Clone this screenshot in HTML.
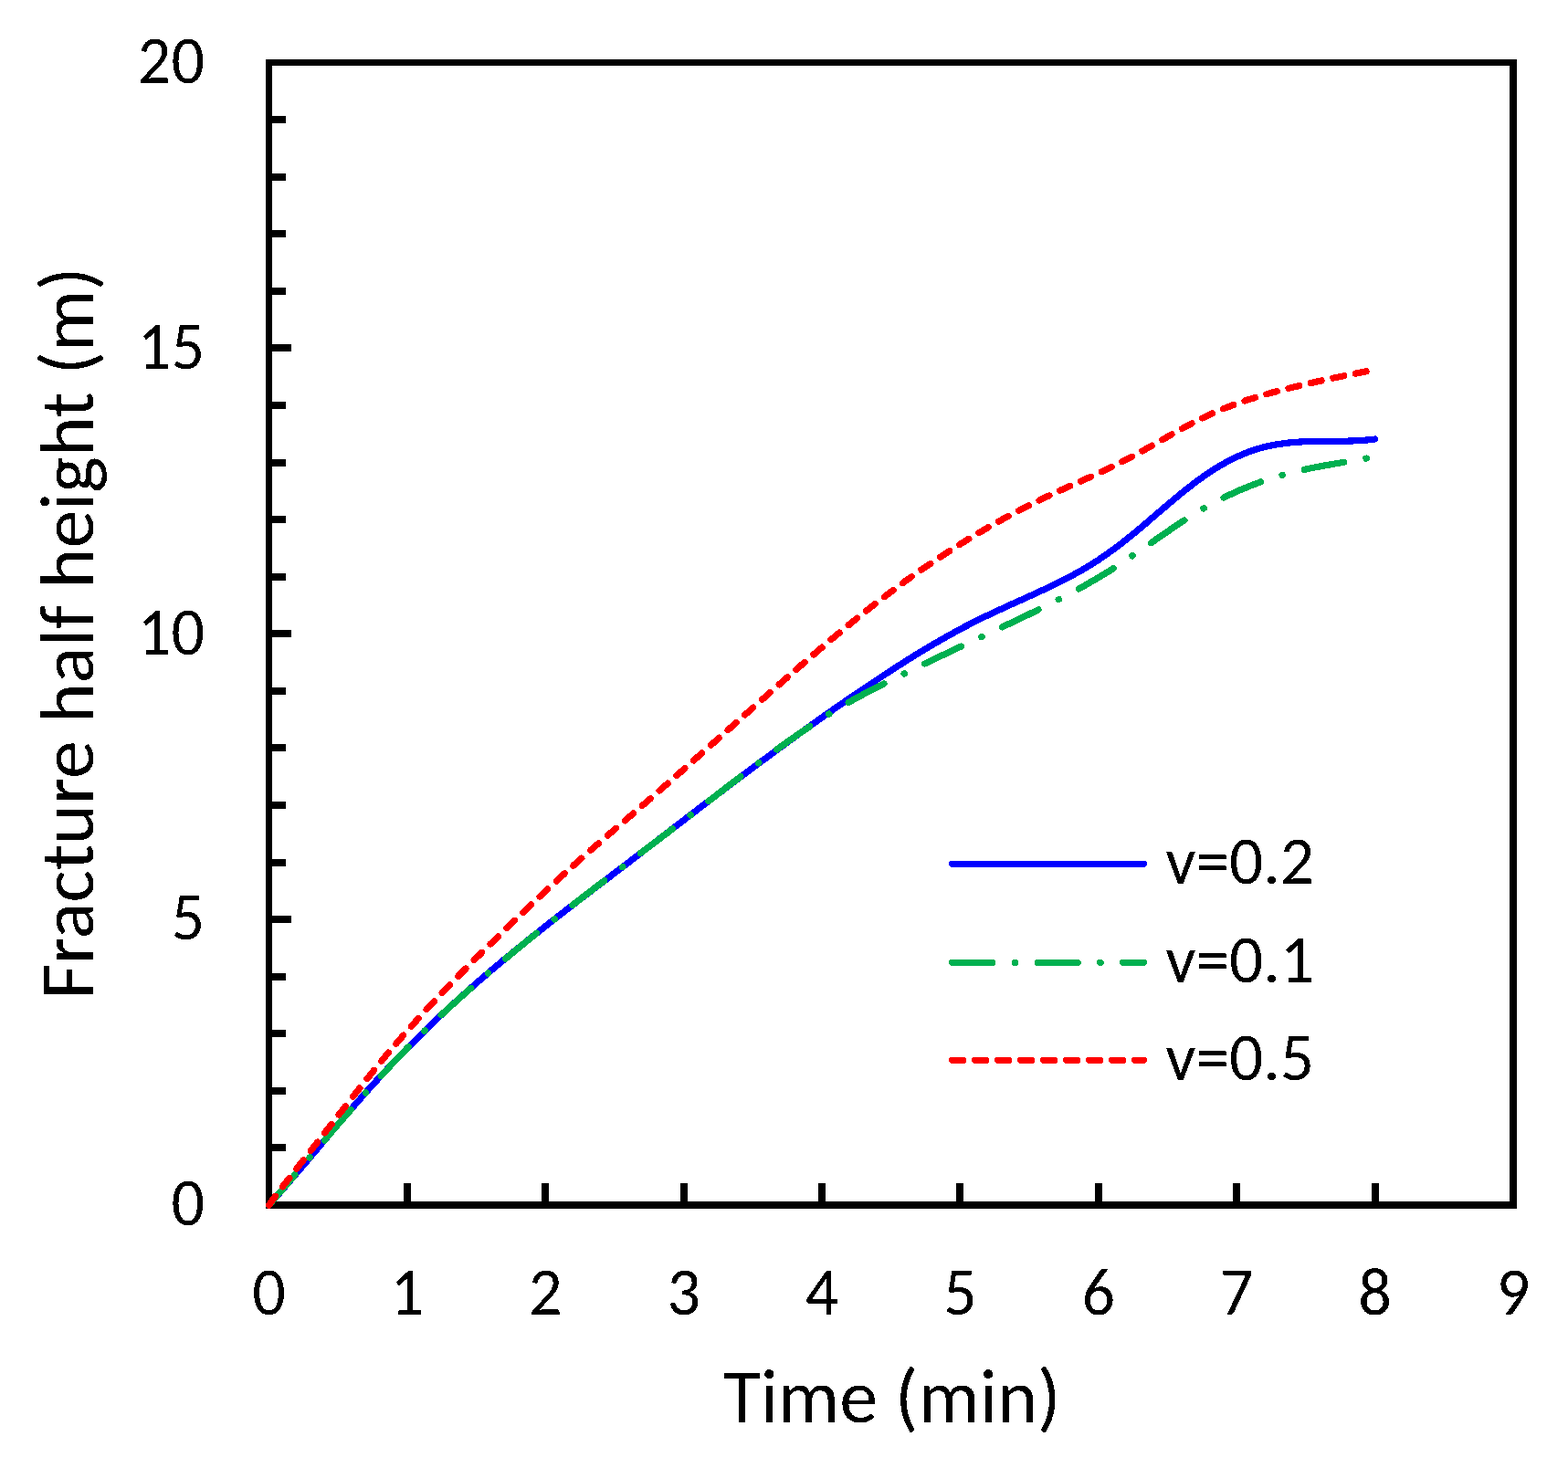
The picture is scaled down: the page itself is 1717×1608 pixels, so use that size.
<!DOCTYPE html>
<html><head><meta charset="utf-8"><title>Fracture half height vs time</title>
<style>
html,body{margin:0;padding:0;background:#fff;width:1717px;height:1608px;overflow:hidden}
svg{display:block}
text{font-family:Carlito,"Liberation Sans",sans-serif;fill:#000;font-size-adjust:0.4775}
</style></head><body>
<svg width="1717" height="1608" viewBox="0 0 1717 1608">
<defs><filter id="bin" x="0" y="0" width="1717" height="1608" filterUnits="userSpaceOnUse"><feComponentTransfer><feFuncA type="discrete" tableValues="0 1"/></feComponentTransfer></filter></defs>
<rect width="1717" height="1608" fill="#fff"/>
<path d="M291,65H1661V1324H291Z M298,72V1316H1653V72Z" fill="#000" fill-rule="evenodd"/>
<rect x="298" y="1253" width="15" height="8" fill="#000"/>
<rect x="298" y="1191" width="15" height="8" fill="#000"/>
<rect x="298" y="1128" width="15" height="8" fill="#000"/>
<rect x="298" y="1066" width="15" height="8" fill="#000"/>
<rect x="298" y="1003" width="21" height="8" fill="#000"/>
<rect x="298" y="941" width="15" height="8" fill="#000"/>
<rect x="298" y="878" width="15" height="8" fill="#000"/>
<rect x="298" y="815" width="15" height="8" fill="#000"/>
<rect x="298" y="753" width="15" height="8" fill="#000"/>
<rect x="298" y="690" width="21" height="8" fill="#000"/>
<rect x="298" y="628" width="15" height="8" fill="#000"/>
<rect x="298" y="565" width="15" height="8" fill="#000"/>
<rect x="298" y="503" width="15" height="8" fill="#000"/>
<rect x="298" y="440" width="15" height="8" fill="#000"/>
<rect x="298" y="377" width="21" height="8" fill="#000"/>
<rect x="298" y="315" width="15" height="8" fill="#000"/>
<rect x="298" y="252" width="15" height="8" fill="#000"/>
<rect x="298" y="190" width="15" height="8" fill="#000"/>
<rect x="298" y="127" width="15" height="8" fill="#000"/>
<rect x="442" y="1296" width="8" height="20" fill="#000"/>
<rect x="593" y="1296" width="8" height="20" fill="#000"/>
<rect x="745" y="1296" width="8" height="20" fill="#000"/>
<rect x="896" y="1296" width="8" height="20" fill="#000"/>
<rect x="1047" y="1296" width="8" height="20" fill="#000"/>
<rect x="1199" y="1296" width="8" height="20" fill="#000"/>
<rect x="1350" y="1296" width="8" height="20" fill="#000"/>
<rect x="1502" y="1296" width="8" height="20" fill="#000"/>
<path d="M294.5,1320.0 L297.5,1316.6 L300.5,1313.2 L303.5,1309.8 L306.5,1306.4 L309.5,1302.9 L312.5,1299.5 L315.5,1296.0 L318.5,1292.5 L321.5,1289.0 L324.5,1285.5 L327.5,1282.0 L330.5,1278.5 L333.5,1274.9 L336.5,1271.4 L339.5,1267.9 L342.5,1264.3 L345.5,1260.8 L348.5,1257.2 L351.5,1253.7 L354.5,1250.1 L357.5,1246.6 L360.5,1243.0 L363.5,1239.5 L366.5,1236.0 L369.5,1232.4 L372.5,1228.9 L375.5,1225.4 L378.5,1221.9 L381.5,1218.5 L384.5,1215.0 L387.5,1211.5 L390.5,1208.1 L393.5,1204.7 L396.5,1201.3 L399.5,1197.9 L402.5,1194.5 L405.5,1191.2 L408.5,1187.9 L411.5,1184.6 L414.5,1181.3 L417.5,1178.1 L420.5,1174.8 L423.5,1171.6 L426.5,1168.4 L429.5,1165.2 L432.5,1162.1 L435.5,1159.0 L438.5,1155.8 L441.5,1152.7 L444.5,1149.7 L447.5,1146.6 L450.5,1143.6 L453.5,1140.6 L456.5,1137.6 L459.5,1134.6 L462.5,1131.6 L465.5,1128.7 L468.5,1125.8 L471.5,1122.9 L474.5,1120.0 L477.5,1117.2 L480.5,1114.3 L483.5,1111.5 L486.5,1108.7 L489.5,1105.9 L492.5,1103.1 L495.5,1100.4 L498.5,1097.6 L501.5,1094.9 L504.5,1092.2 L507.5,1089.5 L510.5,1086.8 L513.5,1084.1 L516.5,1081.5 L519.5,1078.9 L522.5,1076.2 L525.5,1073.6 L528.5,1071.0 L531.5,1068.5 L534.5,1065.9 L537.5,1063.3 L540.5,1060.8 L543.5,1058.3 L546.5,1055.7 L549.5,1053.2 L552.5,1050.7 L555.5,1048.3 L558.5,1045.8 L561.5,1043.3 L564.5,1040.9 L567.5,1038.4 L570.5,1036.0 L573.5,1033.6 L576.5,1031.1 L579.5,1028.7 L582.5,1026.3 L585.5,1023.9 L588.5,1021.6 L591.5,1019.2 L594.5,1016.8 L597.5,1014.4 L600.5,1012.1 L603.5,1009.7 L606.5,1007.4 L609.5,1005.0 L612.5,1002.7 L615.5,1000.4 L618.5,998.1 L621.5,995.7 L624.5,993.4 L627.5,991.1 L630.5,988.8 L633.5,986.5 L636.5,984.2 L639.5,981.9 L642.5,979.6 L645.5,977.3 L648.5,975.0 L651.5,972.7 L654.5,970.4 L657.5,968.2 L660.5,965.9 L663.5,963.6 L666.5,961.3 L669.5,959.0 L672.5,956.7 L675.5,954.4 L678.5,952.1 L681.5,949.9 L684.5,947.6 L687.5,945.3 L690.5,943.0 L693.5,940.7 L696.5,938.4 L699.5,936.1 L702.5,933.8 L705.5,931.5 L708.5,929.2 L711.5,926.9 L714.5,924.6 L717.5,922.3 L720.5,920.0 L723.5,917.7 L726.5,915.4 L729.5,913.1 L732.5,910.8 L735.5,908.5 L738.5,906.2 L741.5,903.9 L744.5,901.6 L747.5,899.3 L750.5,897.0 L753.5,894.7 L756.5,892.4 L759.5,890.1 L762.5,887.8 L765.5,885.5 L768.5,883.2 L771.5,880.9 L774.5,878.7 L777.5,876.4 L780.5,874.1 L783.5,871.8 L786.5,869.5 L789.5,867.3 L792.5,865.0 L795.5,862.7 L798.5,860.5 L801.5,858.2 L804.5,855.9 L807.5,853.7 L810.5,851.4 L813.5,849.2 L816.5,846.9 L819.5,844.7 L822.5,842.4 L825.5,840.2 L828.5,837.9 L831.5,835.7 L834.5,833.5 L837.5,831.3 L840.5,829.1 L843.5,826.8 L846.5,824.6 L849.5,822.4 L852.5,820.2 L855.5,818.0 L858.5,815.8 L861.5,813.6 L864.5,811.5 L867.5,809.3 L870.5,807.1 L873.5,804.9 L876.5,802.8 L879.5,800.6 L882.5,798.5 L885.5,796.3 L888.5,794.2 L891.5,792.0 L894.5,789.9 L897.5,787.8 L900.5,785.7 L903.5,783.5 L906.5,781.4 L909.5,779.3 L912.5,777.2 L915.5,775.1 L918.5,773.0 L921.5,771.0 L924.5,768.9 L927.5,766.8 L930.5,764.7 L933.5,762.7 L936.5,760.6 L939.5,758.6 L942.5,756.6 L945.5,754.5 L948.5,752.5 L951.5,750.5 L954.5,748.5 L957.5,746.5 L960.5,744.5 L963.5,742.5 L966.5,740.5 L969.5,738.5 L972.5,736.6 L975.5,734.6 L978.5,732.7 L981.5,730.7 L984.5,728.8 L987.5,726.9 L990.5,725.0 L993.5,723.1 L996.5,721.2 L999.5,719.4 L1002.5,717.5 L1005.5,715.7 L1008.5,713.8 L1011.5,712.0 L1014.5,710.2 L1017.5,708.4 L1020.5,706.7 L1023.5,704.9 L1026.5,703.2 L1029.5,701.4 L1032.5,699.7 L1035.5,698.0 L1038.5,696.3 L1041.5,694.6 L1044.5,693.0 L1047.5,691.4 L1050.5,689.7 L1053.5,688.1 L1056.5,686.5 L1059.5,685.0 L1062.5,683.4 L1065.5,681.9 L1068.5,680.4 L1071.5,678.9 L1074.5,677.4 L1077.5,675.9 L1080.5,674.5 L1083.5,673.1 L1086.5,671.6 L1089.5,670.2 L1092.5,668.8 L1095.5,667.5 L1098.5,666.1 L1101.5,664.7 L1104.5,663.4 L1107.5,662.0 L1110.5,660.6 L1113.5,659.3 L1116.5,657.9 L1119.5,656.6 L1122.5,655.2 L1125.5,653.9 L1128.5,652.5 L1131.5,651.1 L1134.5,649.8 L1137.5,648.4 L1140.5,647.0 L1143.5,645.6 L1146.5,644.2 L1149.5,642.7 L1152.5,641.3 L1155.5,639.9 L1158.5,638.4 L1161.5,636.9 L1164.5,635.4 L1167.5,633.8 L1170.5,632.3 L1173.5,630.7 L1176.5,629.0 L1179.5,627.4 L1182.5,625.7 L1185.5,624.0 L1188.5,622.2 L1191.5,620.4 L1194.5,618.6 L1197.5,616.7 L1200.5,614.8 L1203.5,612.9 L1206.5,610.8 L1209.5,608.8 L1212.5,606.7 L1215.5,604.5 L1218.5,602.4 L1221.5,600.1 L1224.5,597.9 L1227.5,595.6 L1230.5,593.2 L1233.5,590.9 L1236.5,588.5 L1239.5,586.0 L1242.5,583.6 L1245.5,581.1 L1248.5,578.6 L1251.5,576.0 L1254.5,573.5 L1257.5,570.9 L1260.5,568.3 L1263.5,565.8 L1266.5,563.2 L1269.5,560.6 L1272.5,558.0 L1275.5,555.5 L1278.5,552.9 L1281.5,550.4 L1284.5,547.9 L1287.5,545.4 L1290.5,542.9 L1293.5,540.4 L1296.5,538.0 L1299.5,535.6 L1302.5,533.3 L1305.5,531.0 L1308.5,528.7 L1311.5,526.4 L1314.5,524.3 L1317.5,522.1 L1320.5,520.0 L1323.5,518.0 L1326.5,516.0 L1329.5,514.1 L1332.5,512.2 L1335.5,510.4 L1338.5,508.6 L1341.5,507.0 L1344.5,505.3 L1347.5,503.8 L1350.5,502.3 L1353.5,500.8 L1356.5,499.5 L1359.5,498.1 L1362.5,496.9 L1365.5,495.7 L1368.5,494.6 L1371.5,493.5 L1374.5,492.5 L1377.5,491.6 L1380.5,490.7 L1383.5,489.9 L1386.5,489.2 L1389.5,488.5 L1392.5,487.9 L1395.5,487.3 L1398.5,486.8 L1401.5,486.3 L1404.5,485.9 L1407.5,485.5 L1410.5,485.1 L1413.5,484.8 L1416.5,484.6 L1419.5,484.3 L1422.5,484.1 L1425.5,483.9 L1428.5,483.8 L1431.5,483.7 L1434.5,483.6 L1437.5,483.5 L1440.5,483.5 L1443.5,483.4 L1446.5,483.4 L1449.5,483.4 L1452.5,483.3 L1455.5,483.3 L1458.5,483.3 L1461.5,483.3 L1464.5,483.3 L1467.5,483.2 L1470.5,483.2 L1473.5,483.1 L1476.5,483.1 L1479.5,483.0 L1482.5,482.9 L1485.5,482.7 L1488.5,482.6 L1491.5,482.4 L1494.5,482.2 L1497.5,481.9 L1500.5,481.6 L1503.5,481.3 L1505.5,481.0" fill="none" stroke="#0000FF" stroke-width="7.2" stroke-linecap="round" stroke-linejoin="round" shape-rendering="crispEdges"/>
<path d="M294.5,1320.0 L297.5,1316.5 L300.5,1313.1 L303.5,1309.6 L306.5,1306.1 L309.5,1302.6 L312.5,1299.1 L315.5,1295.6 L318.5,1292.1 L321.5,1288.6 L324.5,1285.1 L327.5,1281.6 L330.5,1278.1 L333.5,1274.6 L336.5,1271.0 L339.5,1267.5 L342.5,1264.0 L345.5,1260.5 L348.5,1257.0 L351.5,1253.5 L354.5,1250.0 L357.5,1246.5 L360.5,1243.0 L363.5,1239.5 L366.5,1236.0 L369.5,1232.5 L372.5,1229.0 L375.5,1225.6 L378.5,1222.1 L381.5,1218.7 L384.5,1215.2 L387.5,1211.8 L390.5,1208.4 L393.5,1205.0 L396.5,1201.6 L399.5,1198.2 L402.5,1194.8 L405.5,1191.5 L408.5,1188.2 L411.5,1184.9 L414.5,1181.5 L417.5,1178.3 L420.5,1175.0 L423.5,1171.8 L426.5,1168.5 L429.5,1165.3 L432.5,1162.1 L435.5,1159.0 L438.5,1155.8 L441.5,1152.7 L444.5,1149.6 L447.5,1146.5 L450.5,1143.5 L453.5,1140.5 L456.5,1137.5 L459.5,1134.5 L462.5,1131.5 L465.5,1128.6 L468.5,1125.7 L471.5,1122.8 L474.5,1119.9 L477.5,1117.1 L480.5,1114.2 L483.5,1111.4 L486.5,1108.6 L489.5,1105.9 L492.5,1103.1 L495.5,1100.4 L498.5,1097.7 L501.5,1095.0 L504.5,1092.3 L507.5,1089.6 L510.5,1086.9 L513.5,1084.3 L516.5,1081.7 L519.5,1079.0 L522.5,1076.4 L525.5,1073.8 L528.5,1071.3 L531.5,1068.7 L534.5,1066.1 L537.5,1063.6 L540.5,1061.0 L543.5,1058.5 L546.5,1056.0 L549.5,1053.5 L552.5,1051.0 L555.5,1048.5 L558.5,1046.0 L561.5,1043.5 L564.5,1041.1 L567.5,1038.6 L570.5,1036.2 L573.5,1033.7 L576.5,1031.3 L579.5,1028.9 L582.5,1026.5 L585.5,1024.0 L588.5,1021.6 L591.5,1019.2 L594.5,1016.9 L597.5,1014.5 L600.5,1012.1 L603.5,1009.7 L606.5,1007.4 L609.5,1005.0 L612.5,1002.6 L615.5,1000.3 L618.5,998.0 L621.5,995.6 L624.5,993.3 L627.5,991.0 L630.5,988.6 L633.5,986.3 L636.5,984.0 L639.5,981.7 L642.5,979.4 L645.5,977.1 L648.5,974.8 L651.5,972.5 L654.5,970.2 L657.5,967.9 L660.5,965.6 L663.5,963.3 L666.5,961.0 L669.5,958.8 L672.5,956.5 L675.5,954.2 L678.5,951.9 L681.5,949.6 L684.5,947.4 L687.5,945.1 L690.5,942.8 L693.5,940.6 L696.5,938.3 L699.5,936.0 L702.5,933.7 L705.5,931.5 L708.5,929.2 L711.5,926.9 L714.5,924.6 L717.5,922.4 L720.5,920.1 L723.5,917.8 L726.5,915.5 L729.5,913.3 L732.5,911.0 L735.5,908.7 L738.5,906.4 L741.5,904.1 L744.5,901.8 L747.5,899.5 L750.5,897.2 L753.5,894.9 L756.5,892.6 L759.5,890.3 L762.5,888.0 L765.5,885.7 L768.5,883.4 L771.5,881.1 L774.5,878.7 L777.5,876.4 L780.5,874.1 L783.5,871.8 L786.5,869.5 L789.5,867.2 L792.5,864.8 L795.5,862.5 L798.5,860.2 L801.5,857.9 L804.5,855.6 L807.5,853.3 L810.5,851.0 L813.5,848.7 L816.5,846.4 L819.5,844.2 L822.5,841.9 L825.5,839.6 L828.5,837.4 L831.5,835.1 L834.5,832.9 L837.5,830.7 L840.5,828.4 L843.5,826.2 L846.5,824.0 L849.5,821.8 L852.5,819.7 L855.5,817.5 L858.5,815.3 L861.5,813.2 L864.5,811.1 L867.5,809.0 L870.5,806.9 L873.5,804.8 L876.5,802.7 L879.5,800.7 L882.5,798.6 L885.5,796.6 L888.5,794.6 L891.5,792.6 L894.5,790.6 L897.5,788.7 L900.5,786.8 L903.5,784.9 L906.5,783.0 L909.5,781.1 L912.5,779.3 L915.5,777.4 L918.5,775.6 L921.5,773.9 L924.5,772.1 L927.5,770.4 L930.5,768.7 L933.5,767.0 L936.5,765.3 L939.5,763.7 L942.5,762.1 L945.5,760.5 L948.5,758.9 L951.5,757.3 L954.5,755.8 L957.5,754.2 L960.5,752.7 L963.5,751.1 L966.5,749.6 L969.5,748.1 L972.5,746.6 L975.5,745.1 L978.5,743.6 L981.5,742.1 L984.5,740.7 L987.5,739.2 L990.5,737.7 L993.5,736.2 L996.5,734.8 L999.5,733.3 L1002.5,731.9 L1005.5,730.4 L1008.5,729.0 L1011.5,727.5 L1014.5,726.1 L1017.5,724.6 L1020.5,723.2 L1023.5,721.8 L1026.5,720.3 L1029.5,718.9 L1032.5,717.5 L1035.5,716.1 L1038.5,714.6 L1041.5,713.2 L1044.5,711.8 L1047.5,710.4 L1050.5,709.0 L1053.5,707.5 L1056.5,706.1 L1059.5,704.7 L1062.5,703.3 L1065.5,701.9 L1068.5,700.5 L1071.5,699.1 L1074.5,697.7 L1077.5,696.2 L1080.5,694.8 L1083.5,693.4 L1086.5,692.0 L1089.5,690.6 L1092.5,689.2 L1095.5,687.8 L1098.5,686.3 L1101.5,684.9 L1104.5,683.5 L1107.5,682.1 L1110.5,680.6 L1113.5,679.2 L1116.5,677.8 L1119.5,676.3 L1122.5,674.9 L1125.5,673.5 L1128.5,672.0 L1131.5,670.6 L1134.5,669.1 L1137.5,667.6 L1140.5,666.2 L1143.5,664.7 L1146.5,663.2 L1149.5,661.7 L1152.5,660.2 L1155.5,658.6 L1158.5,657.1 L1161.5,655.5 L1164.5,654.0 L1167.5,652.4 L1170.5,650.8 L1173.5,649.2 L1176.5,647.6 L1179.5,646.0 L1182.5,644.3 L1185.5,642.7 L1188.5,641.0 L1191.5,639.3 L1194.5,637.5 L1197.5,635.8 L1200.5,634.0 L1203.5,632.3 L1206.5,630.5 L1209.5,628.6 L1212.5,626.8 L1215.5,624.9 L1218.5,623.0 L1221.5,621.1 L1224.5,619.1 L1227.5,617.2 L1230.5,615.2 L1233.5,613.2 L1236.5,611.2 L1239.5,609.1 L1242.5,607.1 L1245.5,605.0 L1248.5,603.0 L1251.5,600.9 L1254.5,598.8 L1257.5,596.7 L1260.5,594.6 L1263.5,592.6 L1266.5,590.5 L1269.5,588.4 L1272.5,586.3 L1275.5,584.3 L1278.5,582.2 L1281.5,580.2 L1284.5,578.1 L1287.5,576.1 L1290.5,574.1 L1293.5,572.1 L1296.5,570.2 L1299.5,568.2 L1302.5,566.3 L1305.5,564.4 L1308.5,562.6 L1311.5,560.8 L1314.5,559.0 L1317.5,557.2 L1320.5,555.5 L1323.5,553.8 L1326.5,552.1 L1329.5,550.5 L1332.5,548.9 L1335.5,547.4 L1338.5,545.8 L1341.5,544.4 L1344.5,542.9 L1347.5,541.5 L1350.5,540.1 L1353.5,538.7 L1356.5,537.4 L1359.5,536.1 L1362.5,534.9 L1365.5,533.6 L1368.5,532.4 L1371.5,531.3 L1374.5,530.1 L1377.5,529.0 L1380.5,527.9 L1383.5,526.9 L1386.5,525.9 L1389.5,524.9 L1392.5,523.9 L1395.5,522.9 L1398.5,522.0 L1401.5,521.1 L1404.5,520.3 L1407.5,519.4 L1410.5,518.6 L1413.5,517.8 L1416.5,517.1 L1419.5,516.3 L1422.5,515.6 L1425.5,514.9 L1428.5,514.3 L1431.5,513.6 L1434.5,513.0 L1437.5,512.4 L1440.5,511.8 L1443.5,511.2 L1446.5,510.7 L1449.5,510.1 L1452.5,509.6 L1455.5,509.1 L1458.5,508.6 L1461.5,508.0 L1464.5,507.5 L1467.5,507.0 L1470.5,506.5 L1473.5,506.0 L1476.5,505.5 L1479.5,505.0 L1482.5,504.5 L1485.5,504.0 L1488.5,503.5 L1491.5,503.0 L1494.5,502.4 L1497.5,501.9 L1500.5,501.3 L1503.5,500.7 L1505.5,500.3" fill="none" stroke="#00B050" stroke-width="7.2" stroke-linecap="round" stroke-linejoin="round" shape-rendering="crispEdges" stroke-dasharray="44 24.65 0.5 24.65" stroke-dashoffset="0.35"/>
<path d="M294.5,1320.0 L297.5,1315.8 L300.5,1311.8 L303.5,1307.7 L306.5,1303.8 L309.5,1299.8 L312.5,1295.9 L315.5,1292.1 L318.5,1288.3 L321.5,1284.4 L324.5,1280.6 L327.5,1276.8 L330.5,1273.0 L333.5,1269.2 L336.5,1265.4 L339.5,1261.6 L342.5,1257.7 L345.5,1253.9 L348.5,1250.0 L351.5,1246.2 L354.5,1242.3 L357.5,1238.5 L360.5,1234.6 L363.5,1230.8 L366.5,1226.9 L369.5,1223.0 L372.5,1219.2 L375.5,1215.3 L378.5,1211.5 L381.5,1207.6 L384.5,1203.8 L387.5,1200.0 L390.5,1196.2 L393.5,1192.4 L396.5,1188.6 L399.5,1184.8 L402.5,1181.0 L405.5,1177.3 L408.5,1173.6 L411.5,1169.9 L414.5,1166.2 L417.5,1162.6 L420.5,1158.9 L423.5,1155.3 L426.5,1151.8 L429.5,1148.2 L432.5,1144.7 L435.5,1141.2 L438.5,1137.7 L441.5,1134.3 L444.5,1130.8 L447.5,1127.4 L450.5,1124.1 L453.5,1120.7 L456.5,1117.4 L459.5,1114.1 L462.5,1110.8 L465.5,1107.5 L468.5,1104.2 L471.5,1101.0 L474.5,1097.8 L477.5,1094.6 L480.5,1091.4 L483.5,1088.2 L486.5,1085.1 L489.5,1082.0 L492.5,1078.8 L495.5,1075.7 L498.5,1072.7 L501.5,1069.6 L504.5,1066.5 L507.5,1063.5 L510.5,1060.4 L513.5,1057.4 L516.5,1054.4 L519.5,1051.4 L522.5,1048.4 L525.5,1045.5 L528.5,1042.5 L531.5,1039.5 L534.5,1036.6 L537.5,1033.6 L540.5,1030.7 L543.5,1027.8 L546.5,1024.9 L549.5,1021.9 L552.5,1019.0 L555.5,1016.1 L558.5,1013.2 L561.5,1010.3 L564.5,1007.4 L567.5,1004.6 L570.5,1001.7 L573.5,998.8 L576.5,995.9 L579.5,993.1 L582.5,990.2 L585.5,987.4 L588.5,984.5 L591.5,981.7 L594.5,978.9 L597.5,976.0 L600.5,973.2 L603.5,970.4 L606.5,967.6 L609.5,964.9 L612.5,962.1 L615.5,959.3 L618.5,956.6 L621.5,953.9 L624.5,951.1 L627.5,948.4 L630.5,945.7 L633.5,943.1 L636.5,940.4 L639.5,937.7 L642.5,935.1 L645.5,932.4 L648.5,929.8 L651.5,927.2 L654.5,924.6 L657.5,922.0 L660.5,919.4 L663.5,916.8 L666.5,914.2 L669.5,911.6 L672.5,909.1 L675.5,906.5 L678.5,903.9 L681.5,901.3 L684.5,898.7 L687.5,896.2 L690.5,893.6 L693.5,891.0 L696.5,888.4 L699.5,885.8 L702.5,883.2 L705.5,880.6 L708.5,878.0 L711.5,875.4 L714.5,872.7 L717.5,870.1 L720.5,867.5 L723.5,864.9 L726.5,862.2 L729.5,859.6 L732.5,856.9 L735.5,854.3 L738.5,851.7 L741.5,849.0 L744.5,846.4 L747.5,843.7 L750.5,841.0 L753.5,838.4 L756.5,835.7 L759.5,833.1 L762.5,830.4 L765.5,827.7 L768.5,825.1 L771.5,822.4 L774.5,819.7 L777.5,817.1 L780.5,814.4 L783.5,811.7 L786.5,809.0 L789.5,806.4 L792.5,803.7 L795.5,801.0 L798.5,798.4 L801.5,795.7 L804.5,793.0 L807.5,790.3 L810.5,787.7 L813.5,785.0 L816.5,782.3 L819.5,779.7 L822.5,777.0 L825.5,774.3 L828.5,771.7 L831.5,769.0 L834.5,766.3 L837.5,763.7 L840.5,761.0 L843.5,758.4 L846.5,755.7 L849.5,753.1 L852.5,750.4 L855.5,747.8 L858.5,745.1 L861.5,742.5 L864.5,739.9 L867.5,737.3 L870.5,734.6 L873.5,732.0 L876.5,729.4 L879.5,726.8 L882.5,724.2 L885.5,721.6 L888.5,719.0 L891.5,716.5 L894.5,713.9 L897.5,711.3 L900.5,708.8 L903.5,706.2 L906.5,703.7 L909.5,701.2 L912.5,698.6 L915.5,696.1 L918.5,693.6 L921.5,691.1 L924.5,688.6 L927.5,686.2 L930.5,683.7 L933.5,681.3 L936.5,678.8 L939.5,676.4 L942.5,674.0 L945.5,671.6 L948.5,669.2 L951.5,666.8 L954.5,664.5 L957.5,662.1 L960.5,659.8 L963.5,657.5 L966.5,655.1 L969.5,652.9 L972.5,650.6 L975.5,648.3 L978.5,646.1 L981.5,643.8 L984.5,641.6 L987.5,639.4 L990.5,637.2 L993.5,635.1 L996.5,632.9 L999.5,630.8 L1002.5,628.6 L1005.5,626.5 L1008.5,624.4 L1011.5,622.3 L1014.5,620.3 L1017.5,618.2 L1020.5,616.2 L1023.5,614.2 L1026.5,612.2 L1029.5,610.2 L1032.5,608.2 L1035.5,606.2 L1038.5,604.3 L1041.5,602.4 L1044.5,600.5 L1047.5,598.6 L1050.5,596.7 L1053.5,594.8 L1056.5,592.9 L1059.5,591.1 L1062.5,589.3 L1065.5,587.5 L1068.5,585.7 L1071.5,583.9 L1074.5,582.1 L1077.5,580.4 L1080.5,578.6 L1083.5,576.9 L1086.5,575.2 L1089.5,573.5 L1092.5,571.8 L1095.5,570.1 L1098.5,568.5 L1101.5,566.8 L1104.5,565.2 L1107.5,563.6 L1110.5,562.0 L1113.5,560.4 L1116.5,558.9 L1119.5,557.3 L1122.5,555.8 L1125.5,554.3 L1128.5,552.7 L1131.5,551.3 L1134.5,549.8 L1137.5,548.3 L1140.5,546.9 L1143.5,545.4 L1146.5,544.0 L1149.5,542.6 L1152.5,541.2 L1155.5,539.8 L1158.5,538.4 L1161.5,537.0 L1164.5,535.7 L1167.5,534.3 L1170.5,533.0 L1173.5,531.6 L1176.5,530.3 L1179.5,528.9 L1182.5,527.6 L1185.5,526.2 L1188.5,524.9 L1191.5,523.5 L1194.5,522.2 L1197.5,520.8 L1200.5,519.4 L1203.5,518.0 L1206.5,516.6 L1209.5,515.2 L1212.5,513.8 L1215.5,512.3 L1218.5,510.9 L1221.5,509.4 L1224.5,507.9 L1227.5,506.4 L1230.5,504.9 L1233.5,503.4 L1236.5,501.8 L1239.5,500.2 L1242.5,498.6 L1245.5,496.9 L1248.5,495.3 L1251.5,493.6 L1254.5,492.0 L1257.5,490.3 L1260.5,488.6 L1263.5,486.9 L1266.5,485.2 L1269.5,483.5 L1272.5,481.8 L1275.5,480.1 L1278.5,478.4 L1281.5,476.7 L1284.5,475.0 L1287.5,473.3 L1290.5,471.7 L1293.5,470.0 L1296.5,468.4 L1299.5,466.8 L1302.5,465.2 L1305.5,463.6 L1308.5,462.1 L1311.5,460.5 L1314.5,459.0 L1317.5,457.6 L1320.5,456.1 L1323.5,454.7 L1326.5,453.4 L1329.5,452.0 L1332.5,450.7 L1335.5,449.5 L1338.5,448.2 L1341.5,447.0 L1344.5,445.8 L1347.5,444.7 L1350.5,443.6 L1353.5,442.5 L1356.5,441.4 L1359.5,440.3 L1362.5,439.3 L1365.5,438.3 L1368.5,437.3 L1371.5,436.4 L1374.5,435.4 L1377.5,434.5 L1380.5,433.6 L1383.5,432.7 L1386.5,431.9 L1389.5,431.0 L1392.5,430.2 L1395.5,429.4 L1398.5,428.6 L1401.5,427.8 L1404.5,427.0 L1407.5,426.3 L1410.5,425.5 L1413.5,424.8 L1416.5,424.0 L1419.5,423.3 L1422.5,422.6 L1425.5,421.9 L1428.5,421.2 L1431.5,420.5 L1434.5,419.8 L1437.5,419.1 L1440.5,418.4 L1443.5,417.7 L1446.5,417.1 L1449.5,416.4 L1452.5,415.8 L1455.5,415.1 L1458.5,414.5 L1461.5,413.8 L1464.5,413.2 L1467.5,412.6 L1470.5,412.0 L1473.5,411.3 L1476.5,410.7 L1479.5,410.1 L1482.5,409.5 L1485.5,408.9 L1488.5,408.3 L1491.5,407.7 L1494.5,407.1 L1497.5,406.6 L1500.5,406.0 L1503.5,405.4 L1505.6,405.0" fill="none" stroke="#FF0000" stroke-width="7.2" stroke-linecap="round" stroke-linejoin="round" shape-rendering="crispEdges" stroke-dasharray="12 13.02"/>
<path d="M1042.6,946.4H1252.4" stroke="#0000FF" stroke-width="7.2" stroke-linecap="round" shape-rendering="crispEdges"/>
<path d="M1042.6,1054.4H1252.4" stroke="#00B050" stroke-width="7.2" stroke-linecap="round" stroke-dasharray="44 24.5 0.5 24.5" shape-rendering="crispEdges"/>
<path d="M1042.6,1161.4H1252.4" stroke="#FF0000" stroke-width="7.2" stroke-linecap="round" stroke-dasharray="12 13" shape-rendering="crispEdges"/>
<g filter="url(#bin)">
<text x="224" y="1342.4" font-size="73.5" text-anchor="end" transform="translate(0,1342.4) scale(1,1.035) translate(0,-1342.4)">0</text>
<text x="224" y="1029.5" font-size="73.5" text-anchor="end" transform="translate(0,1029.5) scale(1,1.035) translate(0,-1029.5)">5</text>
<text x="224" y="716.6" font-size="73.5" text-anchor="end" transform="translate(0,716.6) scale(1,1.035) translate(0,-716.6)">10</text>
<text x="224" y="403.8" font-size="73.5" text-anchor="end" transform="translate(0,403.8) scale(1,1.035) translate(0,-403.8)">15</text>
<text x="224" y="90.9" font-size="73.5" text-anchor="end" transform="translate(0,90.9) scale(1,1.035) translate(0,-90.9)">20</text>
<text x="294.5" y="1440" font-size="73.5" text-anchor="middle" transform="translate(0,1440) scale(1,1.035) translate(0,-1440)">0</text>
<text x="445.9" y="1440" font-size="73.5" text-anchor="middle" transform="translate(0,1440) scale(1,1.035) translate(0,-1440)">1</text>
<text x="597.3" y="1440" font-size="73.5" text-anchor="middle" transform="translate(0,1440) scale(1,1.035) translate(0,-1440)">2</text>
<text x="748.7" y="1440" font-size="73.5" text-anchor="middle" transform="translate(0,1440) scale(1,1.035) translate(0,-1440)">3</text>
<text x="900.1" y="1440" font-size="73.5" text-anchor="middle" transform="translate(0,1440) scale(1,1.035) translate(0,-1440)">4</text>
<text x="1051.4" y="1440" font-size="73.5" text-anchor="middle" transform="translate(0,1440) scale(1,1.035) translate(0,-1440)">5</text>
<text x="1202.8" y="1440" font-size="73.5" text-anchor="middle" transform="translate(0,1440) scale(1,1.035) translate(0,-1440)">6</text>
<text x="1354.2" y="1440" font-size="73.5" text-anchor="middle" transform="translate(0,1440) scale(1,1.035) translate(0,-1440)">7</text>
<text x="1505.6" y="1440" font-size="73.5" text-anchor="middle" transform="translate(0,1440) scale(1,1.035) translate(0,-1440)">8</text>
<text x="1657.0" y="1440" font-size="73.5" text-anchor="middle" transform="translate(0,1440) scale(1,1.035) translate(0,-1440)">9</text>
<text x="791.9" y="1558" font-size="84" textLength="369.6" lengthAdjust="spacingAndGlyphs">Time (min)</text>
<text transform="translate(102,1094.5) rotate(-90)" x="0" y="0" font-size="84" textLength="802" lengthAdjust="spacingAndGlyphs">Fracture half height (m)</text>
<text x="1276.2" y="967.7" font-size="73.5" textLength="162.9" lengthAdjust="spacingAndGlyphs" transform="translate(0,967.7) scale(1,1.03) translate(0,-967.7)">v=0.2</text>
<text x="1276.2" y="1075.7" font-size="73.5" textLength="162.9" lengthAdjust="spacingAndGlyphs" transform="translate(0,1075.7) scale(1,1.03) translate(0,-1075.7)">v=0.1</text>
<text x="1276.2" y="1182.7" font-size="73.5" textLength="162.9" lengthAdjust="spacingAndGlyphs" transform="translate(0,1182.7) scale(1,1.03) translate(0,-1182.7)">v=0.5</text>
</g>
</svg>
</body></html>
